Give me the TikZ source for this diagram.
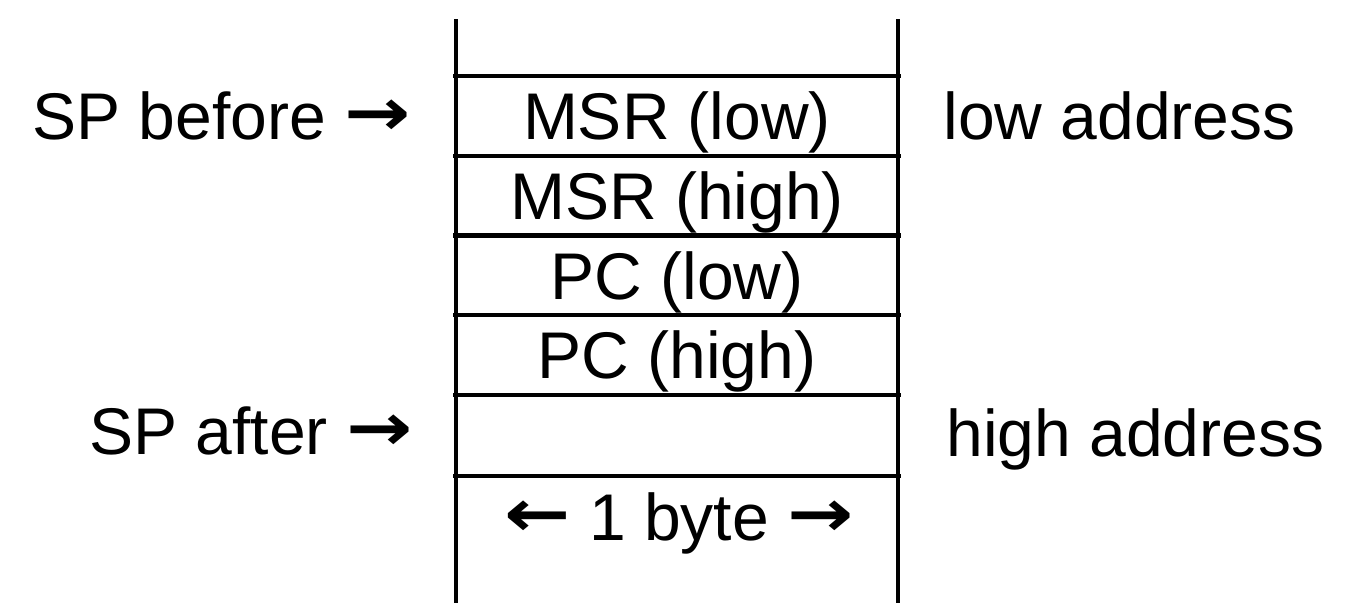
\documentclass[tikz,border=0pt]{standalone}
\usepackage{fontspec}
\setmainfont{Liberation Sans}
\newfontfamily\arrowfont{DejaVu Sans}[BoldFont={DejaVu Sans Bold}]
\newcommand\rarr{{\arrowfont\bfseries\raisebox{2pt}{\scalebox{1.2}[1]{→}}}}
\newcommand\larr{{\arrowfont\bfseries\raisebox{2pt}{\scalebox{1.2}[1]{←}}}}
\begin{document}
\begin{tikzpicture}[x=0.5pt,y=-0.5pt,
  every node/.style={font=\fontsize{33}{40}\selectfont, inner sep=0pt},
  cell/.style={minimum width=221pt, minimum height=40pt, text height=23.5pt, text depth=0pt, anchor=center},
  rule/.style={line width=2.2pt, line cap=rect},
  lbl/.style={anchor=base east},
  rlbl/.style={anchor=base west}]
\useasboundingbox (0,0) rectangle (1348,603);
% cells
\node[cell] (c1) at (677,116.5) {MSR (low)};
\node[cell] (c2) at (677,196.5) {MSR (high)};
\node[cell] (c3) at (677,276) {PC (low)};
\node[cell] (c4) at (677,355.5) {PC (high)};
\node[cell] (c5) at (677,435.5) {};
\node[anchor=base] (w) at (679,540) {\larr\ 1 byte \rarr};
% walls
\coordinate (tl) at (456,21);
\coordinate (bl) at (456,603);
\coordinate (tr) at (898,21);
\coordinate (br) at (898,603);
\draw[rule] (tl) -- (bl);
\draw[rule] (tr) -- (br);
% separators
\draw[rule] (c1.north west) -- (c1.north east);
\draw[rule] (c2.north west) -- (c2.north east);
\draw[rule] (c3.north west) -- (c3.north east);
\draw[rule] (c4.north west) -- (c4.north east);
\draw[rule] (c5.north west) -- (c5.north east);
\draw[rule] (c5.south west) -- (c5.south east);
% labels
\node[lbl] (spb) at (411,140) {SP before \rarr};
\node[lbl] (spa) at (413,455) {SP after \rarr};
\node[rlbl] (la) at (943,140) {low address};
\node[rlbl] (ha) at (946,457) {high address};
\end{tikzpicture}
\end{document}
